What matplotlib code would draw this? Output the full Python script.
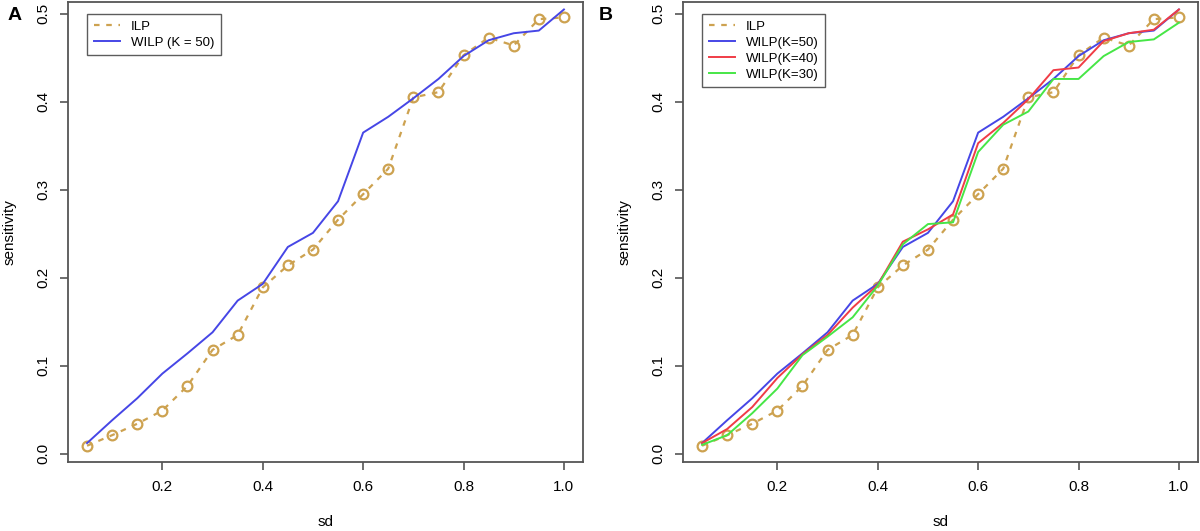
import matplotlib
matplotlib.use("Agg")
import matplotlib.pyplot as plt

plt.rcParams['font.family'] = ['Liberation Sans', 'DejaVu Sans']

sd = [0.05, 0.10, 0.15, 0.20, 0.25, 0.30, 0.35, 0.40, 0.45, 0.50,
      0.55, 0.60, 0.65, 0.70, 0.75, 0.80, 0.85, 0.90, 0.95, 1.00]

ilp = [0.009, 0.021, 0.034, 0.049, 0.077, 0.118, 0.135, 0.189, 0.214, 0.232,
       0.266, 0.295, 0.324, 0.405, 0.411, 0.453, 0.473, 0.464, 0.494, 0.496]

wilp50 = [0.012, 0.038, 0.063, 0.091, 0.114, 0.138, 0.174, 0.193, 0.235, 0.251,
          0.287, 0.365, 0.383, 0.404, 0.426, 0.452, 0.470, 0.478, 0.481, 0.505]

wilp40 = [0.012, 0.028, 0.053, 0.086, 0.113, 0.135, 0.166, 0.192, 0.241, 0.255,
          0.272, 0.353, 0.376, 0.403, 0.436, 0.439, 0.469, 0.478, 0.482, 0.505]

wilp30 = [0.010, 0.021, 0.046, 0.074, 0.112, 0.133, 0.155, 0.191, 0.238, 0.261,
          0.263, 0.343, 0.374, 0.389, 0.426, 0.426, 0.452, 0.468, 0.471, 0.490]

xticks = [0.2, 0.4, 0.6, 0.8, 1.0]
yticks = [0.0, 0.1, 0.2, 0.3, 0.4, 0.5]

c_ilp = '#CDA250'
c50 = '#4646E6'
c40 = '#F03C46'
c30 = '#46E646'
axis_col = '#555555'

fig = plt.figure(figsize=(12, 5.31), dpi=100)
axA = fig.add_axes([68 / 1200, 69 / 531, 515 / 1200, 460 / 531])
axB = fig.add_axes([683 / 1200, 69 / 531, 515 / 1200, 460 / 531])


def style(ax):
    ax.set_xlim(0.012, 1.038)
    ax.set_ylim(-0.0095, 0.5135)
    ax.set_xticks(xticks)
    ax.set_xticklabels(['0.2', '0.4', '0.6', '0.8', '1.0'])
    ax.set_yticks(yticks)
    ax.set_yticklabels(['0.0', '0.1', '0.2', '0.3', '0.4', '0.5'],
                       rotation=90, va='center')
    ax.tick_params(direction='out', length=6, width=1.2, color=axis_col,
                   labelsize=11, pad=7)
    for s in ax.spines.values():
        s.set_color(axis_col)
        s.set_linewidth(1.3)
    ax.set_xlabel('sd', fontsize=11, labelpad=15)
    ax.set_ylabel('sensitivity', fontsize=11, labelpad=14)


def plot_ilp(ax):
    ax.plot(sd, ilp, color=c_ilp, linestyle=(0, (2.5, 3)), linewidth=1.6,
            marker='o', markersize=7, markerfacecolor='none',
            markeredgewidth=1.6, label='ILP')


def legend(ax):
    leg = ax.legend(loc='upper left', bbox_to_anchor=(0.037, 0.974),
                    borderaxespad=0, fontsize=9.5, frameon=True,
                    fancybox=False, edgecolor='#333333', handlelength=2.0,
                    handletextpad=0.8, borderpad=0.5, labelspacing=0.28)
    leg.get_frame().set_linewidth(1.0)
    leg.legend_handles[0].set_marker('')


# panel A
plot_ilp(axA)
axA.plot(sd, wilp50, color=c50, linewidth=1.4, label='WILP (K = 50)')
style(axA)
legend(axA)

# panel B
plot_ilp(axB)
axB.plot(sd, wilp50, color=c50, linewidth=1.4, label='WILP(K=50)')
axB.plot(sd, wilp40, color=c40, linewidth=1.4, label='WILP(K=40)')
axB.plot(sd, wilp30, color=c30, linewidth=1.4, label='WILP(K=30)')
style(axB)
legend(axB)

fig.text(15 / 1200, 1 - 15 / 531, 'A', fontsize=14, fontweight='bold',
         va='center', ha='center')
fig.text(606 / 1200, 1 - 15 / 531, 'B', fontsize=14, fontweight='bold',
         va='center', ha='center')

fig.savefig('out.png', dpi=100)
